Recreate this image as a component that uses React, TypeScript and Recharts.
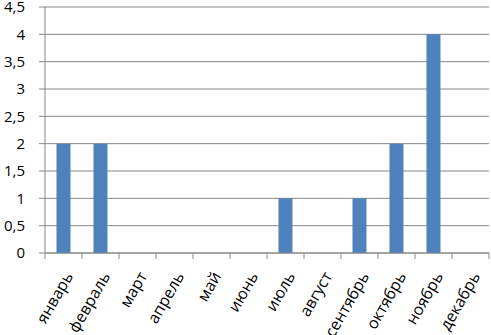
import React from 'react';
import { BarChart, Bar, XAxis, YAxis, CartesianGrid } from 'recharts';

const months = ['январь', 'февраль', 'март', 'апрель', 'май', 'июнь', 'июль', 'август', 'сентябрь', 'октябрь', 'ноябрь', 'декабрь'];
const values = [2, 2, 0, 0, 0, 0, 1, 0, 1, 2, 4, 0];
const yTicks = [0, 0.5, 1, 1.5, 2, 2.5, 3, 3.5, 4, 4.5];

const data = months.map((m, i) => ({ month: m, value: values[i] }));

const W = 491;
const H = 335;
const MARGIN = { top: 7, right: 2, left: 0, bottom: 0 };
const YW = 45;
const XH = 82;
const PLOT_W = W - MARGIN.left - MARGIN.right - YW;
const BAND = PLOT_W / months.length;
const FONT = "'Open Sans', sans-serif";
const GRID = '#868686';
const ANGLE = -60;

const XTick = (props: any) => {
  const { x, y, payload, index } = props;
  const isLast = index === months.length - 1;
  return (
    <g>
      <line x1={x - BAND / 2} y1={y - 8} x2={x - BAND / 2} y2={y - 2} stroke={GRID} />
      {isLast && <line x1={x + BAND / 2} y1={y - 8} x2={x + BAND / 2} y2={y - 2} stroke={GRID} />}
      <text
        x={0}
        y={0}
        textAnchor="end"
        dominantBaseline="central"
        fontSize={16}
        fontFamily={FONT}
        fill="#000"
        style={{ transform: `translate(${x + 5}px, ${y + 12}px) rotate(${ANGLE}deg)` }}
      >
        {payload.value}
      </text>
    </g>
  );
};

export default function App() {
  return (
    <div style={{ position: 'absolute', left: 0, top: 0, width: W, height: H, background: '#fff' }}>
      <BarChart width={W} height={H} data={data} margin={MARGIN} barCategoryGap="31%">
        <CartesianGrid vertical={false} stroke={GRID} />
        <XAxis
          dataKey="month"
          interval={0}
          height={XH}
          tickLine={false}
          axisLine={{ stroke: GRID }}
          tick={<XTick />}
        />
        <YAxis
          width={YW}
          domain={[0, 4.5]}
          ticks={yTicks}
          interval={0}
          tickSize={6}
          tickMargin={14}
          tickLine={{ stroke: GRID }}
          axisLine={{ stroke: GRID }}
          tickFormatter={(v: number) => String(v).replace('.', ',')}
          tick={{ fontSize: 15, fontFamily: FONT, fill: '#000' }}
        />
        <Bar dataKey="value" fill="#4F81BD" isAnimationActive={false} />
      </BarChart>
    </div>
  );
}
